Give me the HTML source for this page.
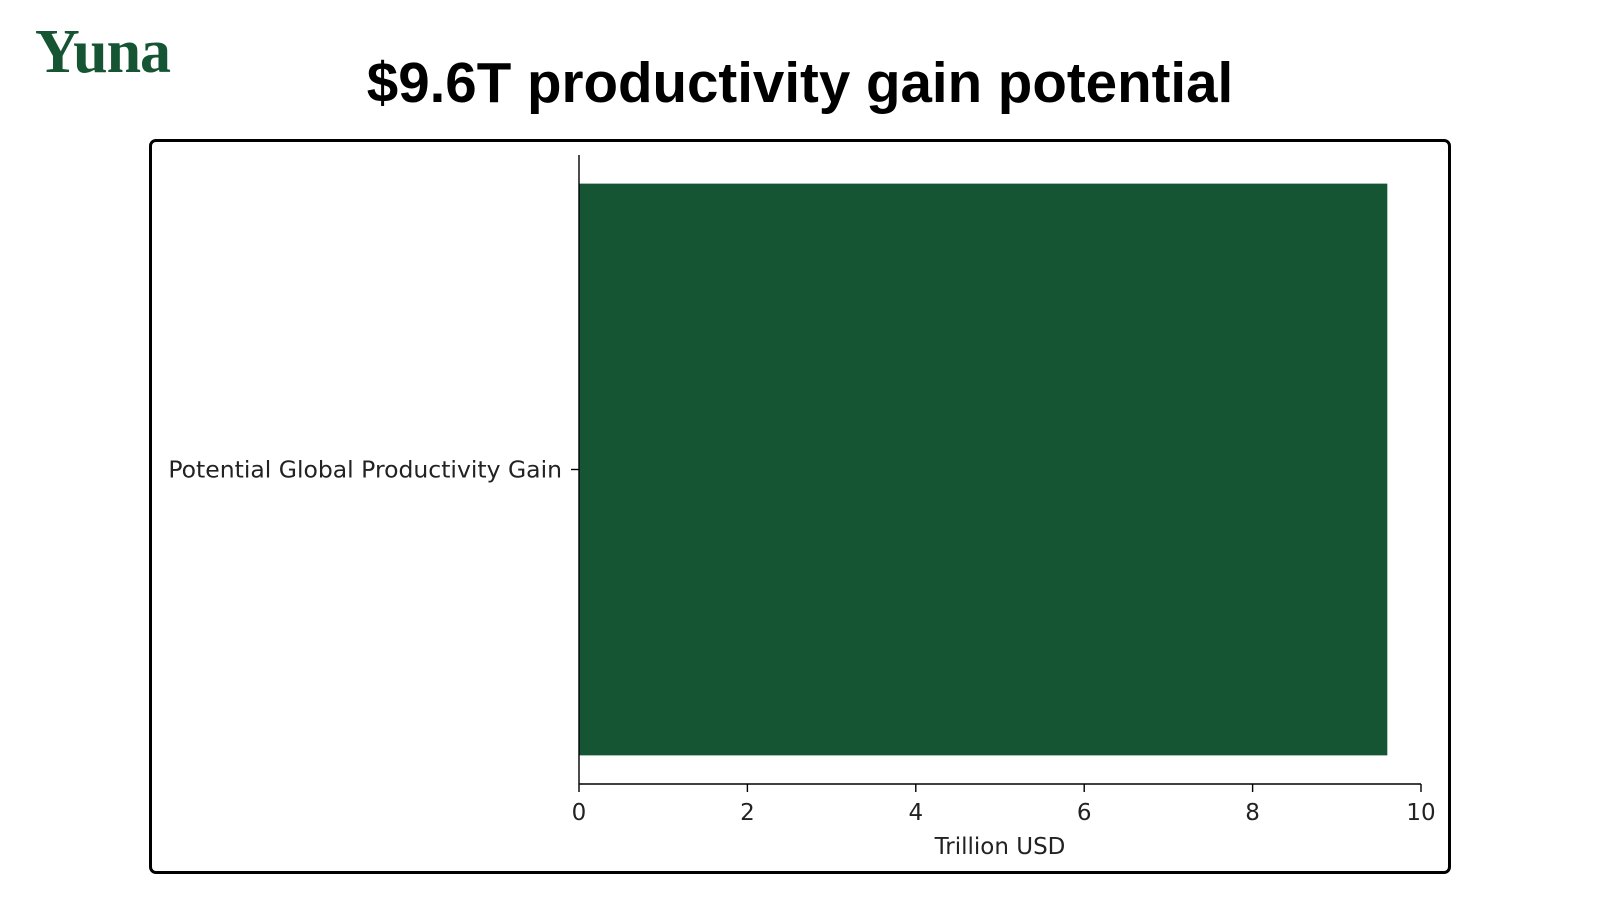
<!DOCTYPE html>
<html><head><meta charset="utf-8"><style>
html,body{margin:0;padding:0;background:#fff;width:1600px;height:900px;overflow:hidden}
.logo{position:absolute;left:35px;top:17px;font-family:"Liberation Serif",serif;font-weight:bold;font-size:62px;color:#155533;letter-spacing:-1px}
.title{position:absolute;left:0;width:1600px;top:50px;text-align:center;font-family:"Liberation Sans",sans-serif;font-weight:bold;font-size:56.5px;color:#000}
.frame{position:absolute;left:149px;top:139px;width:1296px;height:729px;border:3px solid #000;border-radius:7px}
svg{position:absolute;left:0;top:0}
</style></head><body>
<div class="logo">Yuna</div>
<div class="title">$9.6T productivity gain potential</div>
<div class="frame"></div>
<svg id="chart" width="1600" height="900"></svg>
<script>
const categories=["Potential Global Productivity Gain"];
const values=[9.6];
const xTicks=[0,2,4,6,8,10];
const xLabel="Trillion USD";
const NS="http://www.w3.org/2000/svg";
const svg=document.getElementById('chart');
const X0=579,X1=1421,Y0=155,Y1=784;
const x=v=>X0+(v-0)/(10-0)*(X1-X0);
const band=(Y1-Y0)/categories.length;
function mk(t,a){const e=document.createElementNS(NS,t);for(const k in a)e.setAttribute(k,a[k]);svg.appendChild(e);return e;}
categories.forEach((c,i)=>{
  const top=Y0+band*i+band*0.0455, h=band*0.909;
  const r=mk('rect',{x:x(0),y:top,width:x(values[i])-x(0),height:h,fill:'#155533'});
  
  
  const cy=top+h/2;
  const tk=mk('line',{x1:X0-8,x2:X0,y1:cy,y2:cy,stroke:'#000','stroke-width':1.4});
  
  
  const t=mk('text',{x:X0-17,y:cy+8,'text-anchor':'end','font-family':'DejaVu Sans, sans-serif','font-size':23.5,fill:'#222'});
  t.textContent=c;
  
  
});
const ya=mk('line',{x1:X0,x2:X0,y1:Y0,y2:Y1,stroke:'#000','stroke-width':1.4});


const xa=mk('line',{x1:X0,x2:X1,y1:Y1,y2:Y1,stroke:'#000','stroke-width':1.4});


xTicks.forEach(v=>{
  const l=mk('line',{x1:x(v),x2:x(v),y1:Y1,y2:Y1+8,stroke:'#000','stroke-width':1.4});
  
  
  const t=mk('text',{x:x(v),y:Y1+36,'text-anchor':'middle','font-family':'DejaVu Sans, sans-serif','font-size':23,fill:'#222'});
  t.textContent=v;
  
  
});
const xl=mk('text',{x:(X0+X1)/2,y:Y1+70,'text-anchor':'middle','font-family':'DejaVu Sans, sans-serif','font-size':23,fill:'#222'});
xl.textContent=xLabel;


</script>
</body></html>
